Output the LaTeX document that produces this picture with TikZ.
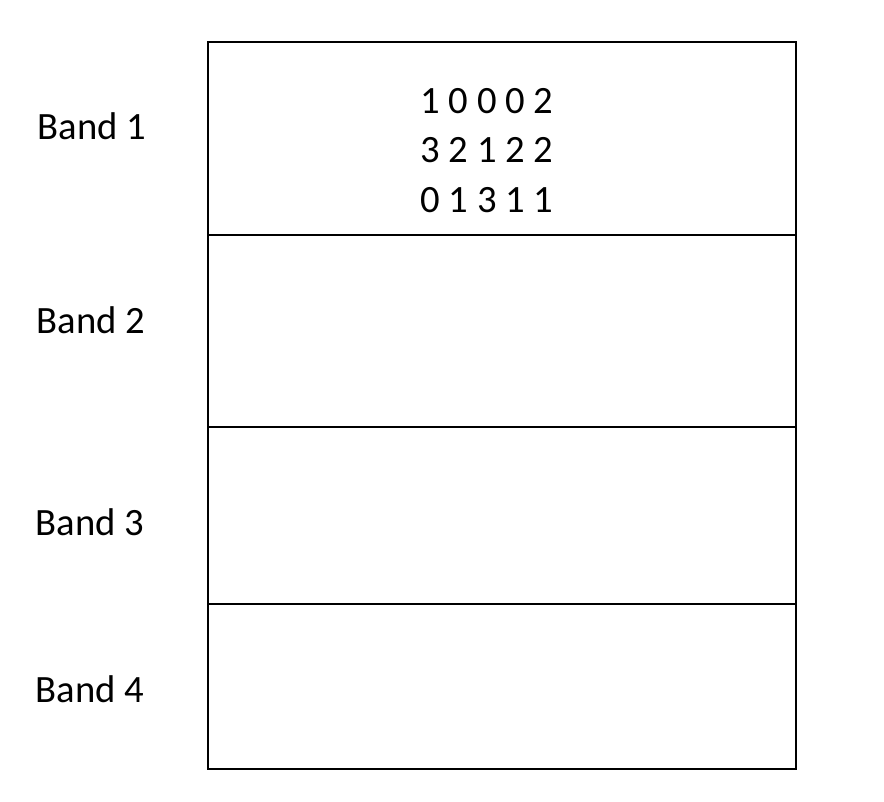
\documentclass[tikz,border=0pt]{standalone}
\usepackage{fontspec}
\setmainfont{Carlito}
\begin{document}
\begin{tikzpicture}[x=0.03cm, y=-0.03cm]
        \tikzset{band/.style={font=\fontsize{33}{40}\selectfont, inner sep=0pt}}
        \useasboundingbox (0,0) rectangle (884,802);
        \draw [line width=2.2pt](208,42) rectangle (796,769);
        \draw [line width=1.3pt](208,235)--(796,235);
        \draw [line width=1.3pt](208,427)--(796,427);
        \draw [line width=1.3pt](208,604)--(796,604);
        \node [band] (b1) at (92,126) {Band 1};
        \node [band] (b2) at (91,320) {Band 2};
        \node [band] (b3) at (90,522) {Band 3};
        \node [band] (b4) at (90,689) {Band 4};
        \node [band] (r1) at (487,101) {1 0 0 0 2};
        \node [band] (r2) at (487,150) {3 2 1 2 2};
        \node [band] (r3) at (487,200) {0 1 3 1 1};
\end{tikzpicture}
\end{document}
